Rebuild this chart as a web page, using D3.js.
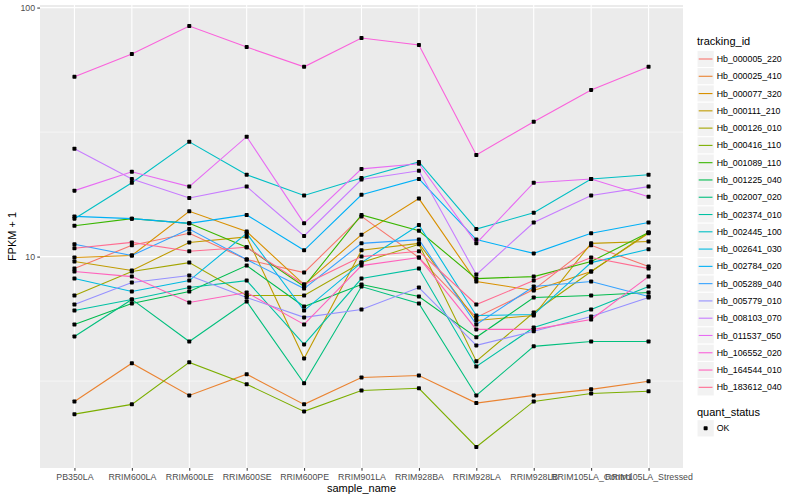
<!DOCTYPE html>
<html><head><meta charset="utf-8">
<script src="https://cdn.jsdelivr.net/npm/d3@7"></script>
<style>body{margin:0;background:#fff} text{font-family:"Liberation Sans",Arial,Helvetica,sans-serif}</style>
</head><body><svg id="c" width="800" height="500"></svg>
<script>
const samples = ["PB350LA","RRIM600LA","RRIM600LE","RRIM600SE","RRIM600PE","RRIM901LA","RRIM928BA","RRIM928LA","RRIM928LB","RRIM105LA_Control","RRIM105LA_Stressed"];
const trackingIds = ["Hb_000005_220","Hb_000025_410","Hb_000077_320","Hb_000111_210","Hb_000126_010","Hb_000416_110","Hb_001089_110","Hb_001225_040","Hb_002007_020","Hb_002374_010","Hb_002445_100","Hb_002641_030","Hb_002784_020","Hb_005289_040","Hb_005779_010","Hb_008103_070","Hb_011537_050","Hb_106552_020","Hb_164544_010","Hb_183612_040"];
const colors = ["#F8766D","#EA8331","#D89000","#C09B00","#A3A500","#7CAE00","#39B600","#00BB4E","#00BF7D","#00C1A3","#00BFC4","#00BAE0","#00B0F6","#35A2FF","#9590FF","#C77CFF","#E76BF3","#FA62DB","#FF62BC","#FF6C91"];
const yTicks = [10, 100];
const quantStatus = ["OK"];

// FPKM + 1 per sample, one array per tracking_id
const hb_000005_220 = [8.95, 11.1, 12.4, 9.73, 8.63, 14.5, 9.91, 5.70, 7.37, 11.1, 9.12];
const hb_000025_410 = [2.62, 3.73, 2.77, 3.37, 2.55, 3.27, 3.33, 2.58, 2.77, 2.93, 3.16];
const hb_000077_320 = [9.91, 10.1, 15.2, 12.6, 7.72, 12.25, 17.1, 7.94, 7.31, 8.71, 12.4];
const hb_000111_210 = [9.55, 8.79, 11.4, 12.0, 3.90, 10.6, 11.3, 5.54, 5.80, 11.3, 11.5];
const hb_000126_010 = [6.98, 8.71, 9.46, 6.98, 6.98, 9.46, 11.2, 3.80, 5.96, 8.71, 12.5];
const hb_000416_110 = [2.33, 2.55, 3.76, 3.07, 2.39, 2.90, 2.96, 1.72, 2.62, 2.82, 2.88];
const hb_001089_110 = [13.3, 14.2, 13.6, 10.9, 7.58, 14.7, 12.7, 8.16, 8.31, 9.55, 12.5];
const hb_001225_040 = [5.34, 6.48, 7.24, 9.20, 6.30, 7.72, 6.91, 4.74, 6.85, 6.98, 7.17];
const hb_002007_020 = [4.78, 6.73, 4.56, 6.60, 3.10, 7.58, 6.48, 2.77, 4.36, 4.56, 4.56];
const hb_002374_010 = [6.07, 6.73, 7.51, 8.01, 4.44, 8.16, 8.95, 3.62, 5.19, 6.13, 7.58];
const hb_002445_100 = [14.2, 19.8, 28.9, 21.3, 17.6, 20.7, 24.0, 12.9, 15.0, 20.5, 21.3];
const hb_002641_030 = [8.16, 7.24, 8.01, 12.4, 6.07, 9.46, 13.4, 5.80, 5.85, 9.46, 10.7];
const hb_002784_020 = [14.5, 14.2, 13.6, 14.7, 10.6, 17.7, 20.5, 11.7, 10.3, 12.4, 13.7];
const hb_005289_040 = [11.2, 10.1, 12.9, 9.73, 7.44, 11.3, 11.7, 5.34, 7.58, 7.94, 6.91];
const hb_005779_010 = [6.42, 7.87, 8.39, 6.85, 5.70, 6.13, 7.51, 4.40, 5.01, 5.75, 6.85];
const hb_008103_070 = [27.1, 20.5, 17.2, 19.1, 12.1, 20.4, 22.1, 8.47, 13.7, 17.6, 19.1];
const hb_011537_050 = [18.4, 21.9, 19.1, 30.3, 13.6, 22.5, 23.6, 11.3, 19.8, 20.5, 17.4];
const hb_106552_020 = [52.7, 65.1, 84.3, 69.4, 57.8, 75.5, 70.7, 25.6, 34.8, 46.7, 57.8];
const hb_164544_010 = [8.71, 8.31, 6.54, 7.17, 5.34, 9.20, 9.91, 5.10, 5.10, 5.59, 8.31];
const hb_183612_040 = [10.8, 11.4, 10.5, 10.9, 7.72, 10.0, 10.5, 6.42, 8.01, 9.91, 8.95];

const seriesValues = [hb_000005_220, hb_000025_410, hb_000077_320, hb_000111_210, hb_000126_010, hb_000416_110, hb_001089_110, hb_001225_040, hb_002007_020, hb_002374_010, hb_002445_100, hb_002641_030, hb_002784_020, hb_005289_040, hb_005779_010, hb_008103_070, hb_011537_050, hb_106552_020, hb_164544_010, hb_183612_040];

const series = trackingIds.map((id, i) => ({id, color: colors[i], values: seriesValues[i].map((v, j) => ({sample: samples[j], v}))}));

const svg = d3.select("#c");
const P = {left: 40, right: 683, top: 5, bottom: 468};

const x = d3.scalePoint().domain(samples).range([P.left, P.right]).padding(0.6);
const allV = seriesValues.flat();
const lmin = Math.log10(d3.min(allV)), lmax = Math.log10(d3.max(allV));
const pad = (lmax - lmin) * 0.05;
const y = d3.scaleLog().domain([Math.pow(10, lmin - pad), Math.pow(10, lmax + pad)]).range([P.bottom, P.top]);

// panel
svg.append("rect").attr("x", P.left).attr("y", P.top).attr("width", P.right - P.left).attr("height", P.bottom - P.top).attr("fill", "#EBEBEB");
// minor y grid (half decades)
const minor = [Math.sqrt(10), Math.sqrt(1000)];
svg.append("g").selectAll("line").data(minor).join("line")
  .attr("x1", P.left).attr("x2", P.right).attr("y1", d => y(d)).attr("y2", d => y(d))
  .attr("stroke", "#fff").attr("stroke-width", 0.55);
svg.append("g").selectAll("line").data(yTicks).join("line")
  .attr("x1", P.left).attr("x2", P.right).attr("y1", d => y(d)).attr("y2", d => y(d))
  .attr("stroke", "#fff").attr("stroke-width", 1.1);
svg.append("g").selectAll("line").data(samples).join("line")
  .attr("x1", d => x(d)).attr("x2", d => x(d)).attr("y1", P.top).attr("y2", P.bottom)
  .attr("stroke", "#fff").attr("stroke-width", 1.1);

// lines
const line = d3.line().x(d => x(d.sample)).y(d => y(d.v));
svg.append("g").selectAll("path").data(series).join("path")
  .attr("d", d => line(d.values)).attr("fill", "none").attr("stroke", d => d.color).attr("stroke-width", 1.1);
// points
svg.append("g").selectAll("g").data(series).join("g").selectAll("rect").data(d => d.values).join("rect")
  .attr("x", d => x(d.sample) - 2).attr("y", d => y(d.v) - 2).attr("width", 4).attr("height", 4).attr("rx", 0.8)
  .attr("fill", "#000");

// axes
const xAxis = d3.axisBottom(x).tickSize(2.75).tickPadding(3);
const gx = svg.append("g").attr("transform", `translate(0,${P.bottom})`).call(xAxis);
gx.select(".domain").remove();
gx.selectAll("line").attr("stroke", "#333333");
gx.selectAll("text").attr("fill", "#4D4D4D").style("font-size", "8.8px").attr("font-family", null);

const yAxis = d3.axisLeft(y).tickValues(yTicks).tickFormat(d3.format("d")).tickSize(2.75).tickPadding(2.2);
const gy = svg.append("g").attr("transform", `translate(${P.left},0)`).call(yAxis);
gy.select(".domain").remove();
gy.selectAll("line").attr("stroke", "#333333");
gy.selectAll("text").attr("fill", "#4D4D4D").style("font-size", "8.8px").attr("font-family", null);

svg.append("text").attr("x", (P.left + P.right) / 2).attr("y", 492).attr("text-anchor", "middle").style("font-size", "11px").text("sample_name");
svg.append("text").attr("transform", `translate(16,${(P.top + P.bottom) / 2}) rotate(-90)`).attr("text-anchor", "middle").style("font-size", "11px").text("FPKM + 1");

// legend: tracking_id
const L = svg.append("g");
L.append("text").attr("x", 697).attr("y", 44.5).style("font-size", "11px").text("tracking_id");
const keyH = 17.28;
const rows = L.selectAll("g.k").data(series).join("g").attr("class", "k")
  .attr("transform", (d, i) => `translate(697,${59 + i * keyH - keyH / 2})`);
rows.append("rect").attr("width", 17.28).attr("height", keyH).attr("fill", "#F2F2F2").attr("stroke", "#fff").attr("stroke-width", 1);
rows.append("line").attr("x1", 1.7).attr("x2", 15.5).attr("y1", keyH / 2).attr("y2", keyH / 2).attr("stroke", d => d.color).attr("stroke-width", 1.1);
rows.append("text").attr("x", 19.7).attr("y", keyH / 2 + 3.1).style("font-size", "8.8px").text(d => d.id);

// legend: quant_status
L.append("text").attr("x", 697).attr("y", 416.3).style("font-size", "11px").text("quant_status");
const q = L.selectAll("g.q").data(quantStatus).join("g").attr("class", "q")
  .attr("transform", (d, i) => `translate(697,${428.3 + i * keyH - keyH / 2})`);
q.append("rect").attr("width", 17.28).attr("height", keyH).attr("fill", "#F2F2F2").attr("stroke", "#fff").attr("stroke-width", 1);
q.append("rect").attr("x", 8.64 - 2).attr("y", keyH / 2 - 2).attr("width", 4).attr("height", 4).attr("rx", 0.8).attr("fill", "#000");
q.append("text").attr("x", 19.7).attr("y", keyH / 2 + 3.1).style("font-size", "8.8px").text(d => d);
</script></body></html>
